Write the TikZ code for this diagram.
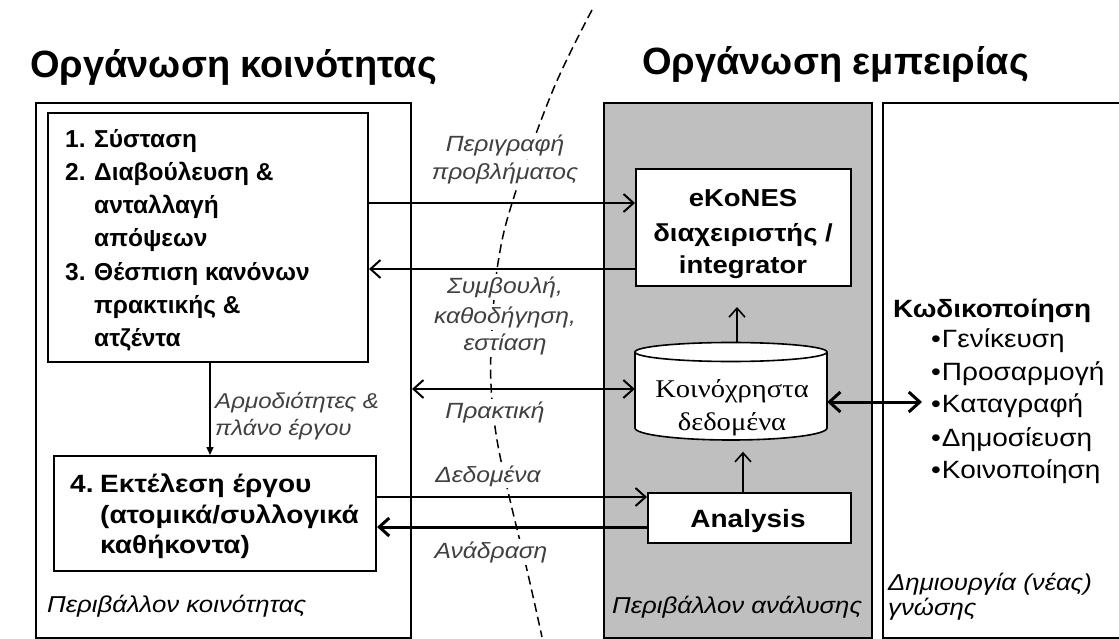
\documentclass[tikz,border=0pt]{standalone}
\usepackage{fontspec}
\setmainfont{Liberation Sans}
\newfontfamily\wide[FakeStretch=1.12]{Liberation Sans}
\newfontfamily\dbfont[FakeStretch=1.12]{Liberation Serif}
\usetikzlibrary{arrows.meta}
\begin{document}
\begin{tikzpicture}[x=1pt,y=-1pt,
  box/.style={draw, line width=2pt, rectangle, inner sep=0pt, anchor=north west},
  titletxt/.style={anchor=base west, inner sep=0pt, font=\bfseries\fontsize{38}{42}\selectfont},
  boldtxt/.style={anchor=base west, inner sep=0pt, font=\bfseries\fontsize{24.5}{30}\selectfont},
  boldw/.style={inner sep=0pt, font=\wide\bfseries\fontsize{25}{30}\selectfont},
  lbl/.style={anchor=base, inner sep=2pt, fill=white, text=black!75, font=\wide\itshape\fontsize{22}{26}\selectfont},
  lblw/.style={anchor=base west, inner sep=0pt, text=black!75, font=\wide\itshape\fontsize{21.5}{26}\selectfont},
  envtxt/.style={anchor=base west, inner sep=0pt, font=\wide\itshape\fontsize{23}{26}\selectfont},
  bul/.style={anchor=base west, inner sep=0pt, font=\wide\fontsize{25}{30}\selectfont},
  dbtxt/.style={anchor=base, inner sep=0pt, font=\dbfont\fontsize{25.5}{30}\selectfont},
  arr/.style={line width=2pt, -{Straight Barb[length=10pt,width=18pt]}},
  darr/.style={line width=2pt, {Straight Barb[length=10pt,width=18pt]}-{Straight Barb[length=10pt,width=18pt]}},
  tarr/.style={line width=3pt, -{Straight Barb[length=10pt,width=18pt]}},
  tdarr/.style={line width=3pt, {Straight Barb[length=11pt,width=20pt]}-{Straight Barb[length=11pt,width=20pt]}},
  uarr/.style={line width=1.6pt, -{Straight Barb[length=9pt,width=16pt]}},
  varr/.style={line width=1.5pt, -{Triangle[length=8pt,width=7pt]}}
]
\useasboundingbox (0,0) rectangle (1119,639);

% titles
\node[titletxt] (t1) at (30,78) {Οργάνωση κοινότητας};
\node[titletxt] (t2) at (642,75) {Οργάνωση εμπειρίας};

% main boxes
\node[box, minimum width=375pt, minimum height=535pt] (outerL) at (35,102) {};
\node[box, fill=black!25, minimum width=268pt, minimum height=535pt] (gray) at (603,102) {};
\node[box, minimum width=260pt, minimum height=535pt] (rightb) at (882,102) {};

\node[box, minimum width=320pt, minimum height=249pt] (box1) at (47,112) {};
\node[box, minimum width=322pt, minimum height=115pt] (box4) at (53,455) {};
\node[box, fill=white, minimum width=215pt, minimum height=117pt] (ekones) at (635,168) {};
\node[box, fill=white, minimum width=203pt, minimum height=50pt] (analysis) at (647,492) {};

% dashed curve
\draw[line width=1.5pt, dash pattern=on 9pt off 5pt] plot[smooth, tension=0.6] coordinates {(592,10) (553,90) (513,200) (498,263) (492,330) (491,385) (497,440) (510,500) (527,570) (542,637)};

% box 1 text
\node[boldtxt] (n1) at (65,148) {1.};
\node[boldtxt] (l1) at (94,148) {Σύσταση};
\node[boldtxt] (n2) at (65,181) {2.};
\node[boldtxt] (l2) at (94,181) {Διαβούλευση \&};
\node[boldtxt] (l3) at (94,214) {ανταλλαγή};
\node[boldtxt] (l4) at (94,247) {απόψεων};
\node[boldtxt] (n3) at (65,280) {3.};
\node[boldtxt] (l5) at (94,280) {Θέσπιση κανόνων};
\node[boldtxt] (l6) at (94,313) {πρακτικής \&};
\node[boldtxt] (l7) at (94,346) {ατζέντα};

% box 4 text
\node[boldw, anchor=base west] (n4) at (70,492) {4.};
\node[boldw, anchor=base west] (m1) at (100,492) {Εκτέλεση έργου};
\node[boldw, anchor=base west] (m2) at (100,523) {(ατομικά/συλλογικά};
\node[boldw, anchor=base west] (m3) at (100,553) {καθήκοντα)};

% environment labels
\node[envtxt] (envL) at (47,612) {Περιβάλλον κοινότητας};
\node[envtxt] (envM) at (612,613) {Περιβάλλον ανάλυσης};
\node[envtxt] (envR1) at (888,590) {Δημιουργία (νέας)};
\node[envtxt] (envR2) at (888,615) {γνώσης};

% eKoNES and analysis text
\node[boldw, anchor=base, font=\wide\bfseries\fontsize{24.5}{30}\selectfont] (e1) at (743,207) {eKoNES};
\node[boldw, anchor=base, font=\wide\bfseries\fontsize{24.5}{30}\selectfont] (e2) at (743,242) {διαχειριστής /};
\node[boldw, anchor=base, font=\wide\bfseries\fontsize{24.5}{30}\selectfont] (e3) at (743,273) {integrator};
\node[boldw, anchor=base] (an) at (748,527) {Analysis};

% cylinder
\draw[line width=1.6pt, fill=white] (635,352) -- (635,428) arc[start angle=180, end angle=360, x radius=96pt, y radius=12pt] -- (827,352) arc[start angle=0, end angle=180, x radius=96pt, y radius=9.5pt] -- cycle;
\draw[line width=1.6pt] (635,352) arc[start angle=180, end angle=360, x radius=96pt, y radius=9.5pt];
\node[inner sep=0pt, minimum width=192pt, minimum height=97pt] (db) at (731,392) {};
\node[dbtxt] (d1) at (732,397) {Κοινόχρηστα};
\node[dbtxt] (d2) at (732,430) {δεδομένα};

% right list
\node[boldw, anchor=base west] (kw) at (893,317) {Κωδικοποίηση};
\node[bul] (b1) at (931,347) {•\hspace{1pt}Γενίκευση};
\node[bul] (b2) at (931,380) {•\hspace{1pt}Προσαρμογή};
\node[bul] (b3) at (931,412) {•\hspace{1pt}Καταγραφή};
\node[bul] (b4) at (931,446) {•\hspace{1pt}Δημοσίευση};
\node[bul] (b5) at (931,478) {•\hspace{1pt}Κοινοποίηση};
\coordinate (kat) at (922,402);

% connectors
\draw[arr] (box1.east |- 0,203) -- (ekones.west |- 0,203);
\draw[arr] (ekones.west |- 0,269) -- (box1.east |- 0,269);
\draw[darr] (outerL.east |- 0,389) -- (db.west |- 0,389);
\draw[arr] (box4.east |- 0,497) -- (analysis.west |- 0,497);
\draw[tarr] (analysis.west |- 0,527) -- (box4.east |- 0,527);
\draw[varr] (box1.south -| 210,0) -- (box4.north -| 210,0);
\draw[uarr, shorten >=20pt] (db.north -| 737,0) -- (ekones.south -| 737,0);
\draw[uarr, shorten >=11pt] (analysis.north -| 743,0) -- (db.south -| 743,0);
\draw[tdarr] (db.east |- 0,402) -- (kat);

% arrow labels
\node[lbl] (p1) at (505,152) {Περιγραφή};
\node[lbl] (p2) at (505,180) {προβλήματος};
\node[lbl] (s1) at (505,293) {Συμβουλή,};
\node[lbl] (s2) at (505,323) {καθοδήγηση,};
\node[lbl] (s3) at (505,350) {εστίαση};
\node[lbl] (pr) at (495,418) {Πρακτική};
\node[lbl] (dd) at (488,482) {Δεδομένα};
\node[lbl] (ad) at (491,558) {Ανάδραση};
\node[lblw] (r1) at (215,408) {Αρμοδιότητες \&};
\node[lblw] (r2) at (215,435) {πλάνο έργου};
\end{tikzpicture}
\end{document}
